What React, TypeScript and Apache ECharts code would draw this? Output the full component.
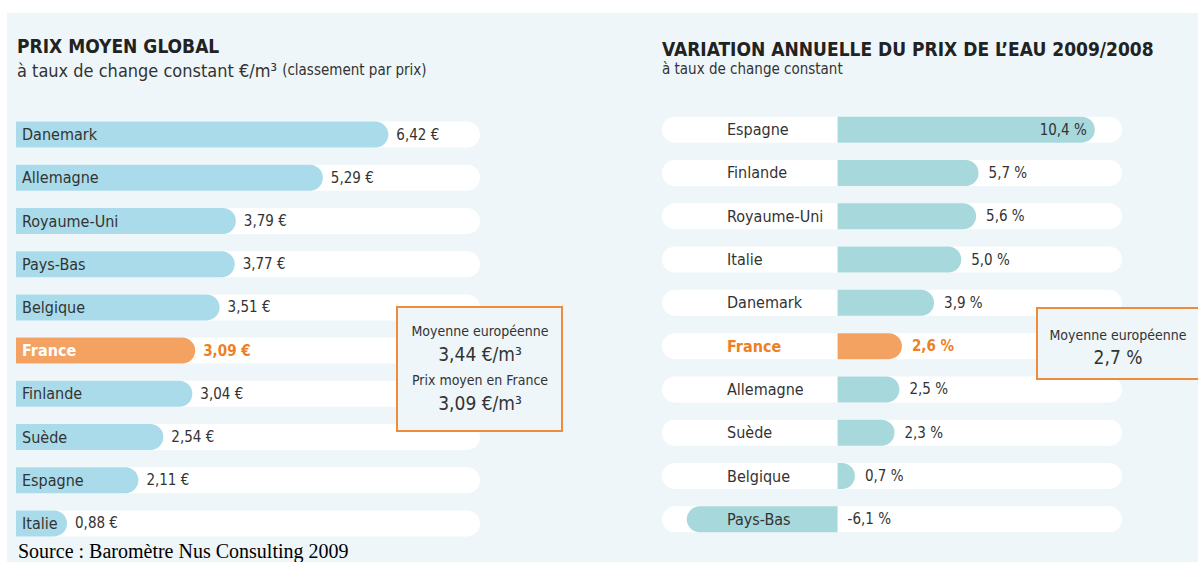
import React, { useEffect, useRef } from 'react';
import * as echarts from 'echarts';

const leftCategories = ['Danemark', 'Allemagne', 'Royaume-Uni', 'Pays-Bas', 'Belgique', 'France', 'Finlande', 'Suède', 'Espagne', 'Italie'];
const leftValues = [6.42, 5.29, 3.79, 3.77, 3.51, 3.09, 3.04, 2.54, 2.11, 0.88];
const rightCategories = ['Espagne', 'Finlande', 'Royaume-Uni', 'Italie', 'Danemark', 'France', 'Allemagne', 'Suède', 'Belgique', 'Pays-Bas'];
const rightValues = [10.4, 5.7, 5.6, 5.0, 3.9, 2.6, 2.5, 2.3, 0.7, -6.1];
const leftBoxTexts = ['Moyenne européenne', '3,44 €/m³', 'Prix moyen en France', '3,09 €/m³'];
const rightBoxTexts = ['Moyenne européenne', '2,7 %'];
const highlight = 'France';

const FONT = '"Liberation Sans Narrow", "DejaVu Sans Condensed", "Roboto Condensed", "Liberation Sans", sans-serif';
const SERIF = '"Liberation Serif", "Times New Roman", serif';
const BG = '#eef6f9';
const BLUE_L = '#a9dbea';
const BLUE_R = '#a7d8db';
const ORANGE = '#f4a262';
const ORANGE_TXT = '#ee7f24';
const TEXT = '#333333';
const BOX = '#ef8c3c';

const fmtEuro = (v: number) => v.toFixed(2).replace('.', ',') + ' €';
const fmtPct = (v: number) => v.toFixed(1).replace('.', ',') + ' %';

export default function App() {
  const ref = useRef<HTMLDivElement>(null);
  useEffect(() => {
    document.body.style.margin = '0';
    document.body.style.overflow = 'hidden';
    const chart = echarts.init(ref.current!, undefined, { renderer: 'svg' });

    const leftTrack = leftCategories.map((c) => ({
      value: 1,
      label: c === highlight ? { color: '#ffffff', fontWeight: 'bold' } : undefined,
    }));
    const leftData = leftValues.map((v, i) =>
      leftCategories[i] === highlight
        ? { value: v, itemStyle: { color: ORANGE }, label: { color: ORANGE_TXT, fontWeight: 'bold' } }
        : { value: v }
    );
    const rightTrack = rightCategories.map((c) => ({
      value: 1,
      label: c === highlight ? { color: ORANGE_TXT, fontWeight: 'bold' } : undefined,
    }));
    const rightData = rightValues.map((v, i) => {
      const item: any = { value: v };
      if (rightCategories[i] === highlight) {
        item.itemStyle = { color: ORANGE };
        item.label = { color: ORANGE_TXT, fontWeight: 'bold' };
      }
      if (i === 0) item.label = { position: 'insideRight', distance: 8 };
      if (v < 0) {
        item.itemStyle = { borderRadius: [13, 0, 0, 13] };
        item.label = { position: 'right', distance: 10 };
      }
      return item;
    });

    const boxText = (x: number, y: number, text: string, size: number) => ({
      type: 'text',
      x,
      y,
      silent: true,
      style: {
        text,
        fontFamily: FONT,
        fontSize: size,
        fill: TEXT,
        textAlign: 'center',
        textVerticalAlign: 'middle',
      },
    });

    chart.setOption({
      animation: false,
      backgroundColor: '#ffffff',
      grid: [
        { left: 16, top: 113, width: 464, height: 432 },
        { left: 662, top: 108, width: 460, height: 433 },
      ],
      xAxis: [
        { gridIndex: 0, type: 'value', min: 0, max: 8, show: false },
        { gridIndex: 0, type: 'value', min: 0, max: 1, show: false },
        { gridIndex: 1, type: 'value', min: -7.1, max: 11.5, show: false },
        { gridIndex: 1, type: 'value', min: 0, max: 1, show: false },
      ],
      yAxis: [
        { gridIndex: 0, type: 'category', data: leftCategories, inverse: true, show: false },
        { gridIndex: 1, type: 'category', data: rightCategories, inverse: true, show: false },
      ],
      graphic: [
        { type: 'rect', z: -10, silent: true, shape: { x: 7, y: 13, width: 1191, height: 549 }, style: { fill: BG } },
        {
          type: 'text', x: 17, y: 36, silent: true,
          style: { text: 'PRIX MOYEN GLOBAL', fontFamily: FONT, fontWeight: 'bold', fontSize: 19, fill: '#222', textVerticalAlign: 'top' },
        },
        {
          type: 'text', x: 17, y: 61, silent: true,
          style: {
            text: '{a|à taux de change constant €/m³ }{b|(classement par prix)}',
            textVerticalAlign: 'top',
            rich: {
              a: { fontFamily: FONT, fontSize: 18, fill: TEXT, color: TEXT },
              b: { fontFamily: FONT, fontSize: 15, fill: TEXT, color: TEXT },
            },
          },
        },
        {
          type: 'text', x: 662, y: 39, silent: true,
          style: { text: 'VARIATION ANNUELLE DU PRIX DE L’EAU 2009/2008', fontFamily: FONT, fontWeight: 'bold', fontSize: 19, fill: '#222', textVerticalAlign: 'top' },
        },
        {
          type: 'text', x: 662, y: 61, silent: true,
          style: { text: 'à taux de change constant', fontFamily: FONT, fontSize: 15, fill: TEXT, textVerticalAlign: 'top' },
        },
        {
          type: 'rect', z: 10, silent: true,
          shape: { x: 397, y: 307, width: 165, height: 124 },
          style: { fill: BG, stroke: BOX, lineWidth: 2 },
        },
        { ...boxText(480, 331, leftBoxTexts[0], 14), z: 11 },
        { ...boxText(480, 354, leftBoxTexts[1], 19), z: 11 },
        { ...boxText(480, 380, leftBoxTexts[2], 14), z: 11 },
        { ...boxText(480, 403, leftBoxTexts[3], 19), z: 11 },
        {
          type: 'rect', z: 10, silent: true,
          shape: { x: 1037, y: 308, width: 170, height: 71 },
          style: { fill: BG, stroke: BOX, lineWidth: 2 },
        },
        { ...boxText(1118, 335, rightBoxTexts[0], 14), z: 11 },
        { ...boxText(1118, 357, rightBoxTexts[1], 19), z: 11 },
        {
          type: 'text', x: 18, y: 561, silent: true,
          style: { text: 'Source : Baromètre Nus Consulting 2009', fontFamily: SERIF, fontSize: 20, fill: '#000', textVerticalAlign: 'bottom' },
        },
      ],
      series: [
        {
          type: 'bar', name: 'trackL', xAxisIndex: 1, yAxisIndex: 0, data: leftTrack,
          barWidth: 26, barGap: '-100%', silent: true, z: 2,
          itemStyle: { color: '#ffffff', borderRadius: [0, 13, 13, 0] },
          label: {
            show: true, position: [6, '50%'], verticalAlign: 'middle', align: 'left',
            formatter: (p: any) => p.name, fontFamily: FONT, fontSize: 16, color: TEXT,
          },
        },
        {
          type: 'bar', name: 'prix', xAxisIndex: 0, yAxisIndex: 0, data: leftData,
          barWidth: 26, barGap: '-100%', silent: true, z: 2,
          itemStyle: { color: BLUE_L, borderRadius: [0, 13, 13, 0] },
          label: {
            show: true, position: 'right', distance: 8,
            formatter: (p: any) => fmtEuro(p.value), fontFamily: FONT, fontSize: 15, color: TEXT,
          },
        },
        {
          type: 'bar', name: 'trackR', xAxisIndex: 3, yAxisIndex: 1, data: rightTrack,
          barWidth: 26, barGap: '-100%', silent: true, z: 2,
          itemStyle: { color: '#ffffff', borderRadius: 13 },
          label: {
            show: true, position: [65, '50%'], verticalAlign: 'middle', align: 'left',
            formatter: (p: any) => p.name, fontFamily: FONT, fontSize: 16, color: TEXT,
          },
        },
        {
          type: 'bar', name: 'variation', xAxisIndex: 2, yAxisIndex: 1, data: rightData,
          barWidth: 26, barGap: '-100%', silent: true, z: 2,
          itemStyle: { color: BLUE_R, borderRadius: [0, 13, 13, 0] },
          label: {
            show: true, position: 'right', distance: 10,
            formatter: (p: any) => fmtPct(p.value), fontFamily: FONT, fontSize: 15, color: TEXT,
          },
        },
      ],
    });
    return () => chart.dispose();
  }, []);
  return <div ref={ref} style={{ width: 1198, height: 562 }} />;
}
